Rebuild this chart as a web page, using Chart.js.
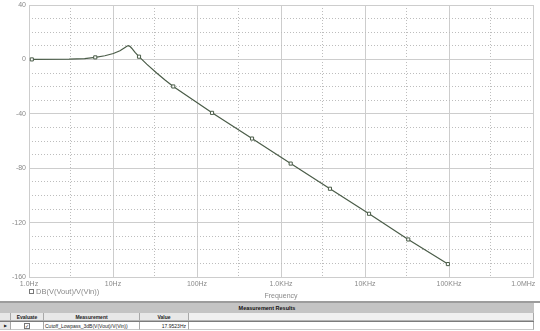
<!DOCTYPE html>
<html>
<head>
<meta charset="utf-8">
<title>Lowpass probe plot</title>
<script src="https://cdn.jsdelivr.net/npm/chart.js@4/dist/chart.umd.min.js"></script>
<style>
    body {
        margin: 0;
        width: 540px;
        height: 331px;
        overflow: hidden;
        position: relative;
        background: #fff;
        font-family: 'Liberation Sans', Arial, sans-serif;
    }
    #plot {
        position: absolute;
        left: 0;
        top: 0;
        width: 540px;
        height: 302px;
    }
    #results {
        position: absolute;
        left: 0;
        top: 301px;
        width: 540px;
        height: 30px;
        background: #fff;
    }
    #results .topline {
        position: absolute;
        left: 0;
        top: 0;
        width: 540px;
        height: 2px;
        background: #9c9c9c;
    }
    #results .bar {
        position: absolute;
        left: 0;
        top: 2px;
        width: 534px;
        height: 10px;
        background: #c4c4c4;
        font: bold 5.5px 'Liberation Sans', Arial, sans-serif;
        line-height: 10px;
        text-align: center;
        color: #111;
    }
    #results .sep {
        position: absolute;
        left: 0;
        top: 20px;
        width: 534px;
        height: 1px;
        background: #7c7c7c;
    }
    .cell {
        position: absolute;
        box-sizing: border-box;
        height: 8px;
        border-right: 1px solid #a8a8a8;
        font-size: 5px;
        line-height: 8px;
        white-space: nowrap;
        overflow: hidden;
        color: #222;
    }
    .head .cell {
        background: #e8e8e8;
        font-weight: bold;
        text-align: center;
        border-bottom: 1px solid #b4b4b4;
    }
    .data .cell {
        background: #fff;
        border-bottom: 1px solid #c8c8c8;
    }
    .check {
        display: inline-block;
        box-sizing: border-box;
        width: 6px;
        height: 6px;
        margin-top: 1px;
        border: 1px solid #777;
        font-size: 5px;
        line-height: 4px;
        text-align: center;
        color: #333;
    }
</style>
</head>
<body>
<div id="plot"><canvas id="bodeChart"></canvas></div>

<div id="results">
    <div class="topline"></div>
    <div class="bar" id="resultsTitle"></div>
    <div class="head" id="headRow"></div>
    <div class="sep"></div>
    <div class="data" id="dataRow"></div>
</div>

<script>
// Trace values (Hz, dB)
const freqHz = [1.08, 3.0, 4.6, 6.15, 8.0, 10.1, 12.1, 13.9, 14.6, 15.2, 15.9, 16.7, 18.3, 20.4,
    25.2, 33.1, 41.6, 52.2, 151, 452, 1304, 3826, 11170, 32740, 97000];
const gainDb = [0, 0.15, 0.6, 1.5, 2.7, 4.3, 6.3, 8.8, 9.7, 10.1, 9.6, 8.2, 5.1, 2.0,
    -3.5, -10.0, -15.2, -19.9, -39.3, -58.2, -76.6, -95.1, -113.5, -132.4, -150.5];

// Points that carry the little square trace markers
const markerIdx = [0, 3, 13, 17, 18, 19, 20, 21, 22, 23, 24];

// Axes
const xTicks = [1, 10, 100, 1e3, 1e4, 1e5, 1e6];
const xTickLabels = ['1.0Hz', '10Hz', '100Hz', '1.0KHz', '10KHz', '100KHz', '1.0MHz'];
const xMinorTicks = [3.162, 31.62, 316.2, 3162, 31620, 316200];
const yTicks = [-160, -120, -80, -40, 0, 40];
const yMinorTicks = [-150, -140, -130, -110, -100, -90, -70, -60, -50, -30, -20, -10, 10, 20, 30];

const traceLabel = 'DB(V(Vout)/V(Vin))';
const axisTitle = 'Frequency';

// Measurement results table
const resultsTitle = 'Measurement Results';
const resultColumns = ['Evaluate', 'Measurement', 'Value'];
const measurementName = 'Cutoff_Lowpass_3dB(V(Vout)/V(Vin))';
const measurementValue = '17.9523Hz';

const traceColor = '#4a5c48';
const labelColor = '#8a8a8a';
const gridColor = '#cdcdcd';
const dotColor = '#bdbdbd';
const labelFont = { family: "'Liberation Sans', Arial, sans-serif", size: 7 };

let chart = null;

// Legend drawn under the plot, the way the probe window does it
const probeLegend = {
    id: 'probeLegend',
    afterDraw(c) {
        const ctx = c.ctx;
        const area = c.chartArea;
        const ds = c.data.datasets[0];
        const y = area.bottom + 15;
        ctx.save();
        ctx.strokeStyle = '#777';
        ctx.lineWidth = 1;
        ctx.strokeRect(area.left + 0.5, y - 2.5, 4, 4);
        ctx.fillStyle = labelColor;
        ctx.font = "7.5px 'Liberation Sans', Arial, sans-serif";
        ctx.textBaseline = 'middle';
        ctx.fillText(ds.label, area.left + 7, y);
        ctx.restore();
    }
};

function fixedSize(w, h) {
    return (axis) => {
        if (w !== null) axis.width = w;
        if (h !== null) axis.height = h;
        axis.paddingLeft = 0;
        axis.paddingRight = 0;
        axis.paddingTop = 0;
        axis.paddingBottom = 0;
    };
}

function initChart() {
    const ctx = document.getElementById('bodeChart').getContext('2d');
    chart = new Chart(ctx, {
        type: 'line',
        data: {
            datasets: [{
                label: traceLabel,
                data: freqHz.map((f, i) => ({ x: f, y: gainDb[i] })),
                borderColor: traceColor,
                borderWidth: 1.2,
                tension: 0,
                fill: false,
                pointStyle: 'rect',
                pointRadius: (c) => markerIdx.includes(c.dataIndex) ? 2.2 : 0,
                pointBackgroundColor: '#fff',
                pointBorderColor: traceColor,
                pointBorderWidth: 1
            }]
        },
        options: {
            responsive: true,
            maintainAspectRatio: false,
            animation: false,
            events: [],
            layout: { padding: { top: 3, right: 7, left: 0, bottom: 0 } },
            plugins: {
                legend: { display: false },
                tooltip: { enabled: false }
            },
            scales: {
                x: {
                    type: 'logarithmic',
                    position: 'bottom',
                    min: 1,
                    max: 1e6,
                    afterBuildTicks: (axis) => { axis.ticks = xTicks.map(v => ({ value: v })); },
                    afterFit: fixedSize(null, 25),
                    ticks: {
                        autoSkip: false,
                        maxRotation: 0,
                        padding: 3,
                        color: labelColor,
                        font: labelFont,
                        // last label sits against the right edge
                        callback: (v, i) => i === xTickLabels.length - 1 ? xTickLabels[i] + '\u00a0'.repeat(10) : xTickLabels[i]
                    },
                    grid: { color: gridColor, drawTicks: false },
                    border: { color: gridColor },
                    title: {
                        display: true,
                        text: axisTitle,
                        color: labelColor,
                        font: labelFont,
                        padding: { top: 2, bottom: 2 }
                    }
                },
                x2: {
                    type: 'logarithmic',
                    position: 'bottom',
                    min: 1,
                    max: 1e6,
                    afterBuildTicks: (axis) => { axis.ticks = xMinorTicks.map(v => ({ value: v })); },
                    afterFit: fixedSize(null, 0),
                    ticks: { display: false },
                    grid: { color: dotColor, drawTicks: false },
                    border: { display: false, dash: [1, 2] }
                },
                y: {
                    type: 'linear',
                    position: 'left',
                    min: -160,
                    max: 40,
                    afterBuildTicks: (axis) => { axis.ticks = yTicks.map(v => ({ value: v })); },
                    afterFit: fixedSize(29, null),
                    ticks: {
                        padding: 3,
                        color: labelColor,
                        font: labelFont
                    },
                    grid: { color: gridColor, drawTicks: false },
                    border: { color: gridColor }
                },
                y2: {
                    type: 'linear',
                    position: 'left',
                    min: -160,
                    max: 40,
                    afterBuildTicks: (axis) => { axis.ticks = yMinorTicks.map(v => ({ value: v })); },
                    afterFit: fixedSize(0, null),
                    ticks: { display: false },
                    grid: { color: dotColor, drawTicks: false },
                    border: { display: false, dash: [1, 2] }
                }
            }
        },
        plugins: [probeLegend]
    });
}

// Build the measurement table rows
function addCell(row, left, width, html, extra) {
    const div = document.createElement('div');
    div.className = 'cell';
    div.style.left = left + 'px';
    div.style.width = width + 'px';
    if (extra) Object.assign(div.style, extra);
    div.innerHTML = html;
    row.appendChild(div);
}

function buildResults() {
    document.getElementById('resultsTitle').textContent = resultsTitle;

    const head = document.getElementById('headRow');
    head.style.position = 'absolute';
    head.style.top = '12px';
    addCell(head, 0, 11, '');
    addCell(head, 11, 33, resultColumns[0]);
    addCell(head, 44, 96, resultColumns[1]);
    addCell(head, 140, 49, resultColumns[2]);
    addCell(head, 189, 345, '', { background: '#f0f0f0' });

    const data = document.getElementById('dataRow');
    data.style.position = 'absolute';
    data.style.top = '21px';
    addCell(data, 0, 11, '\u25B6', { fontSize: '4px', textAlign: 'center', background: '#e8e8e8' });
    addCell(data, 11, 33, '<span class="check">\u2713</span>', { textAlign: 'center' });
    addCell(data, 44, 96, measurementName, { paddingLeft: '1px' });
    addCell(data, 140, 49, measurementValue, { textAlign: 'right', paddingRight: '2px' });
    addCell(data, 189, 345, '');
}

initChart();
buildResults();
</script>
</body>
</html>
